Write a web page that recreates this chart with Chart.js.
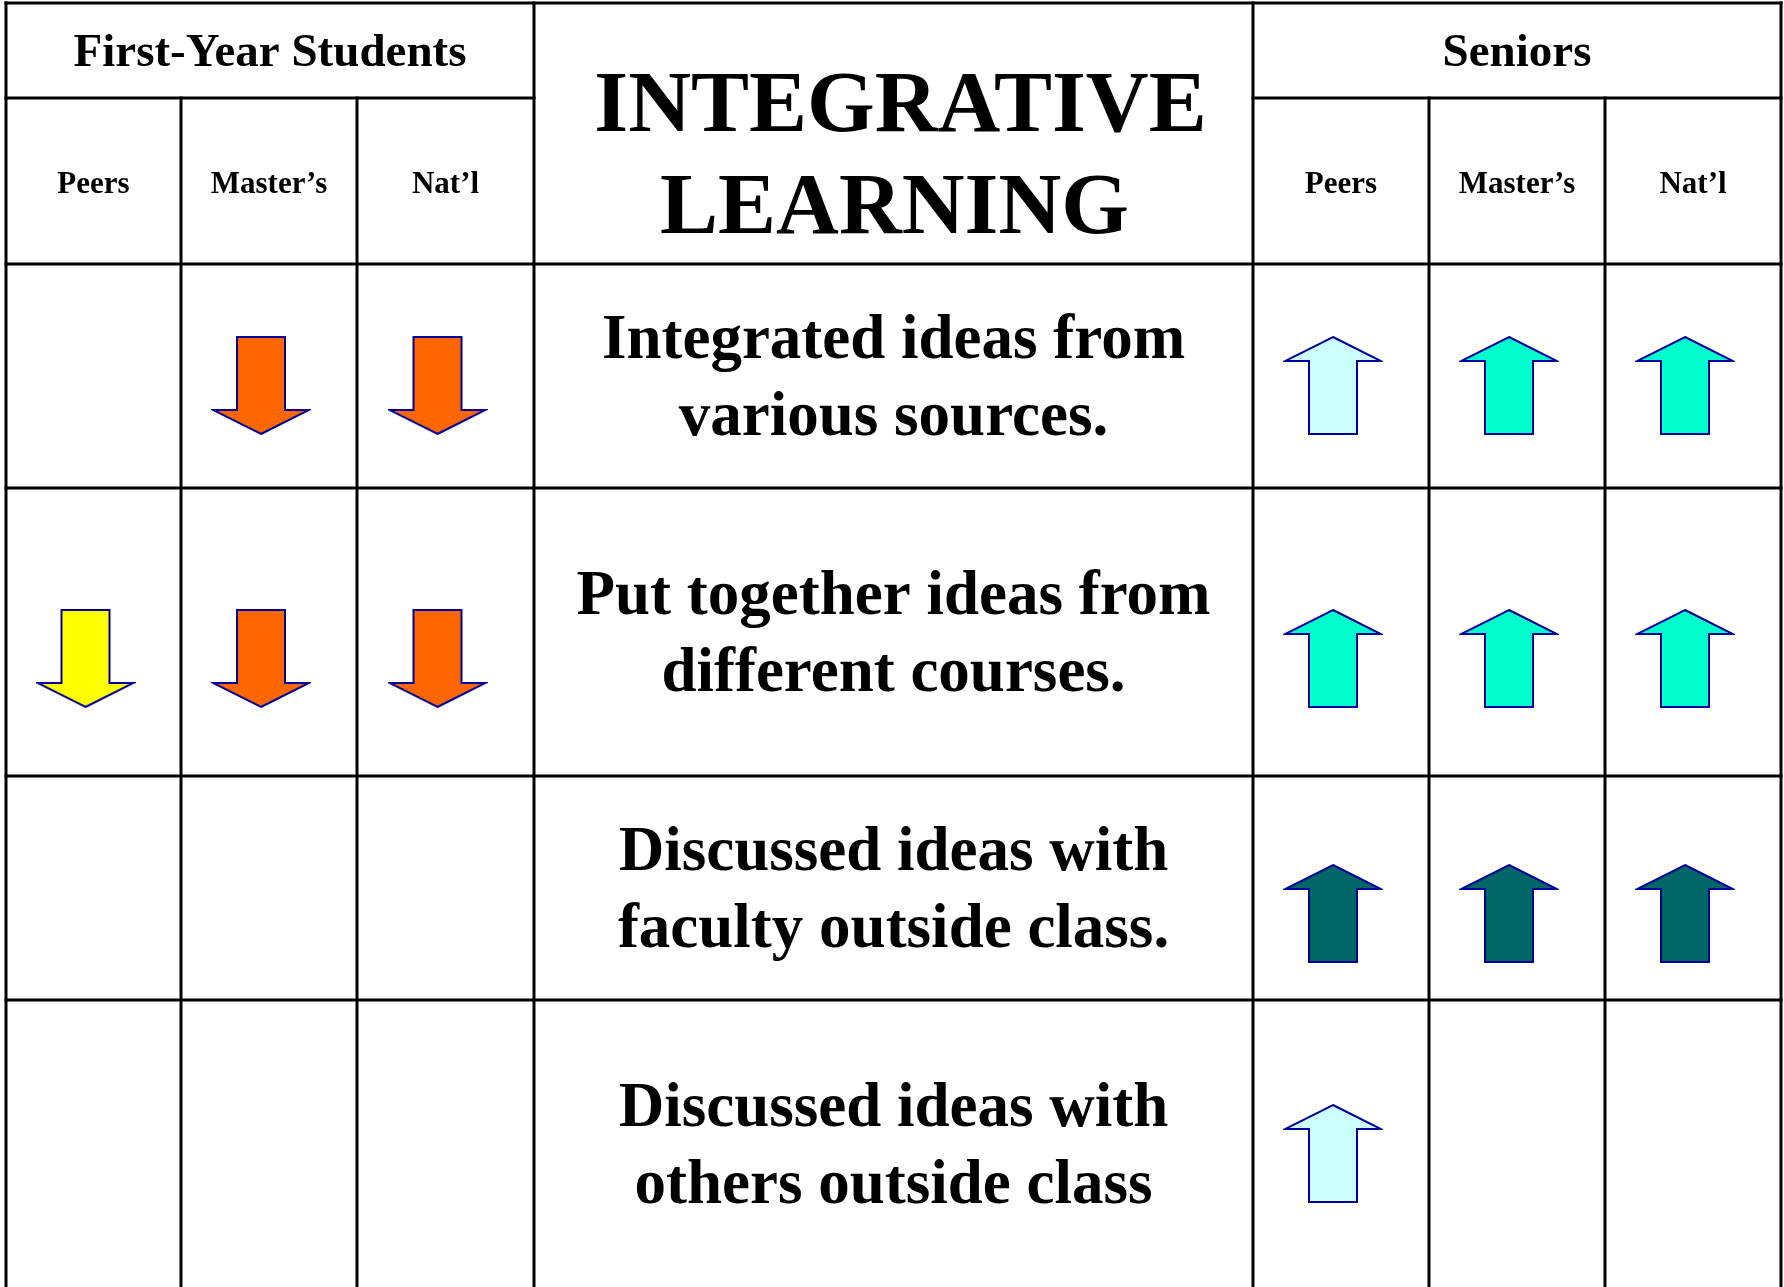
<!DOCTYPE html>
<html>
<head>
<meta charset="utf-8">
<title>Integrative Learning</title>
<script src="https://cdn.jsdelivr.net/npm/chart.js@4/dist/chart.umd.min.js"></script>
<style>
  html, body { margin: 0; padding: 0; background: #fff; }
  #chart { display: block; }
</style>
</head>
<body>
<canvas id="chart" width="1784" height="1287"></canvas>
<script>
// ---- data ----
const titleLines = ['INTEGRATIVE', 'LEARNING'];
const groupLabels = ['First-Year Students', 'Seniors'];
const comparisonLabels = ['Peers', 'Master\u2019s', 'Nat\u2019l'];
const itemLabels = [
  ['Integrated ideas from', 'various sources.'],
  ['Put together ideas from', 'different courses.'],
  ['Discussed ideas with', 'faculty outside class.'],
  ['Discussed ideas with', 'others outside class']
];
// arrow codes: 0 = no difference, <0 lower than comparison group, >0 higher
const firstYearArrows = [
  [0, -2, -2],
  [-1, -2, -2],
  [0, 0, 0],
  [0, 0, 0]
];
const seniorArrows = [
  [1, 2, 2],
  [2, 2, 2],
  [3, 3, 3],
  [1, 0, 0]
];

// ---- styles / layout ----
const W = 1784, H = 1287;
const colEdges = [6, 181, 357, 534, 1253, 1429, 1605, 1781];
const rowEdges = [3, 98, 264, 488, 776, 1000, H];
const arrowY = [386, 659, 914, 1154]; // vertical placement of arrows in each row
const arrowShift = -8;
const arrowFill = {
  '-2': '#FF6600',
  '-1': '#FFFF00',
  '1': '#CCFFFF',
  '2': '#00FFCC',
  '3': '#006666'
};
const SERIF = '"Liberation Serif", "Times New Roman", serif';

function makeArrow(dir, fill) {
  const w = 96, h = 97, sw = 48, hh = 24;
  const c = document.createElement('canvas');
  c.width = w + 4;
  c.height = h + 5;
  const g = c.getContext('2d');
  g.translate(2, 2);
  const y = v => dir > 0 ? v : h - v;
  g.beginPath();
  g.moveTo(w / 2, y(0));
  g.lineTo(w, y(hh));
  g.lineTo(w / 2 + sw / 2, y(hh));
  g.lineTo(w / 2 + sw / 2, y(h));
  g.lineTo(w / 2 - sw / 2, y(h));
  g.lineTo(w / 2 - sw / 2, y(hh));
  g.lineTo(0, y(hh));
  g.closePath();
  g.fillStyle = fill;
  g.fill();
  g.lineWidth = 2;
  g.strokeStyle = '#000099';
  g.stroke();
  return c;
}

const colCenter = i => (colEdges[i] + colEdges[i + 1]) / 2;
const groupCols = [[0, 1, 2], [4, 5, 6]];

// one dataset per arrow code
const datasets = Object.keys(arrowFill).map(code => {
  const v = Number(code);
  const pts = [];
  [firstYearArrows, seniorArrows].forEach((grid, gi) => {
    grid.forEach((row, ri) => {
      row.forEach((val, ci) => {
        if (val === v) pts.push({ x: colCenter(groupCols[gi][ci]) + arrowShift, y: arrowY[ri] });
      });
    });
  });
  return {
    label: code,
    data: pts,
    pointStyle: makeArrow(v, arrowFill[code]),
    pointRadius: 1,
    pointHoverRadius: 1,
    pointBorderWidth: 0,
    showLine: false,
    clip: false
  };
});

const tablePlugin = {
  id: 'tablePlugin',
  beforeDatasetsDraw(chart) {
    const { ctx, scales: { x, y } } = chart;
    const px = v => x.getPixelForValue(v);
    const py = v => y.getPixelForValue(v);
    ctx.save();
    ctx.strokeStyle = '#000';
    ctx.lineWidth = 3;
    ctx.lineCap = 'square';
    const hLine = (y0, x0, x1) => { ctx.beginPath(); ctx.moveTo(px(x0), py(y0)); ctx.lineTo(px(x1), py(y0)); ctx.stroke(); };
    const vLine = (x0, y0, y1) => { ctx.beginPath(); ctx.moveTo(px(x0), py(y0)); ctx.lineTo(px(x0), py(y1)); ctx.stroke(); };

    const L = colEdges[0], R = colEdges[colEdges.length - 1];
    hLine(rowEdges[0], L, R);
    hLine(rowEdges[1], colEdges[0], colEdges[3]);
    hLine(rowEdges[1], colEdges[4], colEdges[7]);
    for (let i = 2; i < rowEdges.length - 1; i++) hLine(rowEdges[i], L, R);
    [0, 3, 4, 7].forEach(i => vLine(colEdges[i], rowEdges[0], H));
    [1, 2, 5, 6].forEach(i => vLine(colEdges[i], rowEdges[1], H));

    ctx.fillStyle = '#000';
    ctx.textAlign = 'center';
    ctx.textBaseline = 'alphabetic';

    // group headers
    ctx.font = 'bold 47px ' + SERIF;
    ctx.fillText(groupLabels[0], px((colEdges[0] + colEdges[3]) / 2), py(66));
    ctx.fillText(groupLabels[1], px((colEdges[4] + colEdges[7]) / 2), py(66));

    // comparison headers
    ctx.font = 'bold 31px ' + SERIF;
    groupCols.forEach(cols => cols.forEach((c, k) => {
      ctx.fillText(comparisonLabels[k], px(colCenter(c)), py(193));
    }));

    // title
    const midX = px(colCenter(3));
    ctx.font = 'bold 87px ' + SERIF;
    ctx.fillText(titleLines[0], midX + 7, py(131));
    ctx.fillText(titleLines[1], midX + 1, py(233));

    // item labels
    ctx.font = 'bold 63px ' + SERIF;
    itemLabels.forEach((lines, i) => {
      const cy = (rowEdges[i + 2] + rowEdges[i + 3]) / 2;
      ctx.fillText(lines[0], midX, py(cy - 18));
      ctx.fillText(lines[1], midX, py(cy + 59));
    });
    ctx.restore();
  }
};

new Chart(document.getElementById('chart'), {
  type: 'scatter',
  data: { datasets },
  options: {
    responsive: false,
    devicePixelRatio: 1,
    animation: false,
    events: [],
    layout: { padding: 0, autoPadding: false },
    plugins: { legend: { display: false }, tooltip: { enabled: false } },
    scales: {
      x: { type: 'linear', display: false, min: 0, max: W },
      y: { type: 'linear', display: false, min: 0, max: H, reverse: true }
    }
  },
  plugins: [tablePlugin]
});
</script>
</body>
</html>
